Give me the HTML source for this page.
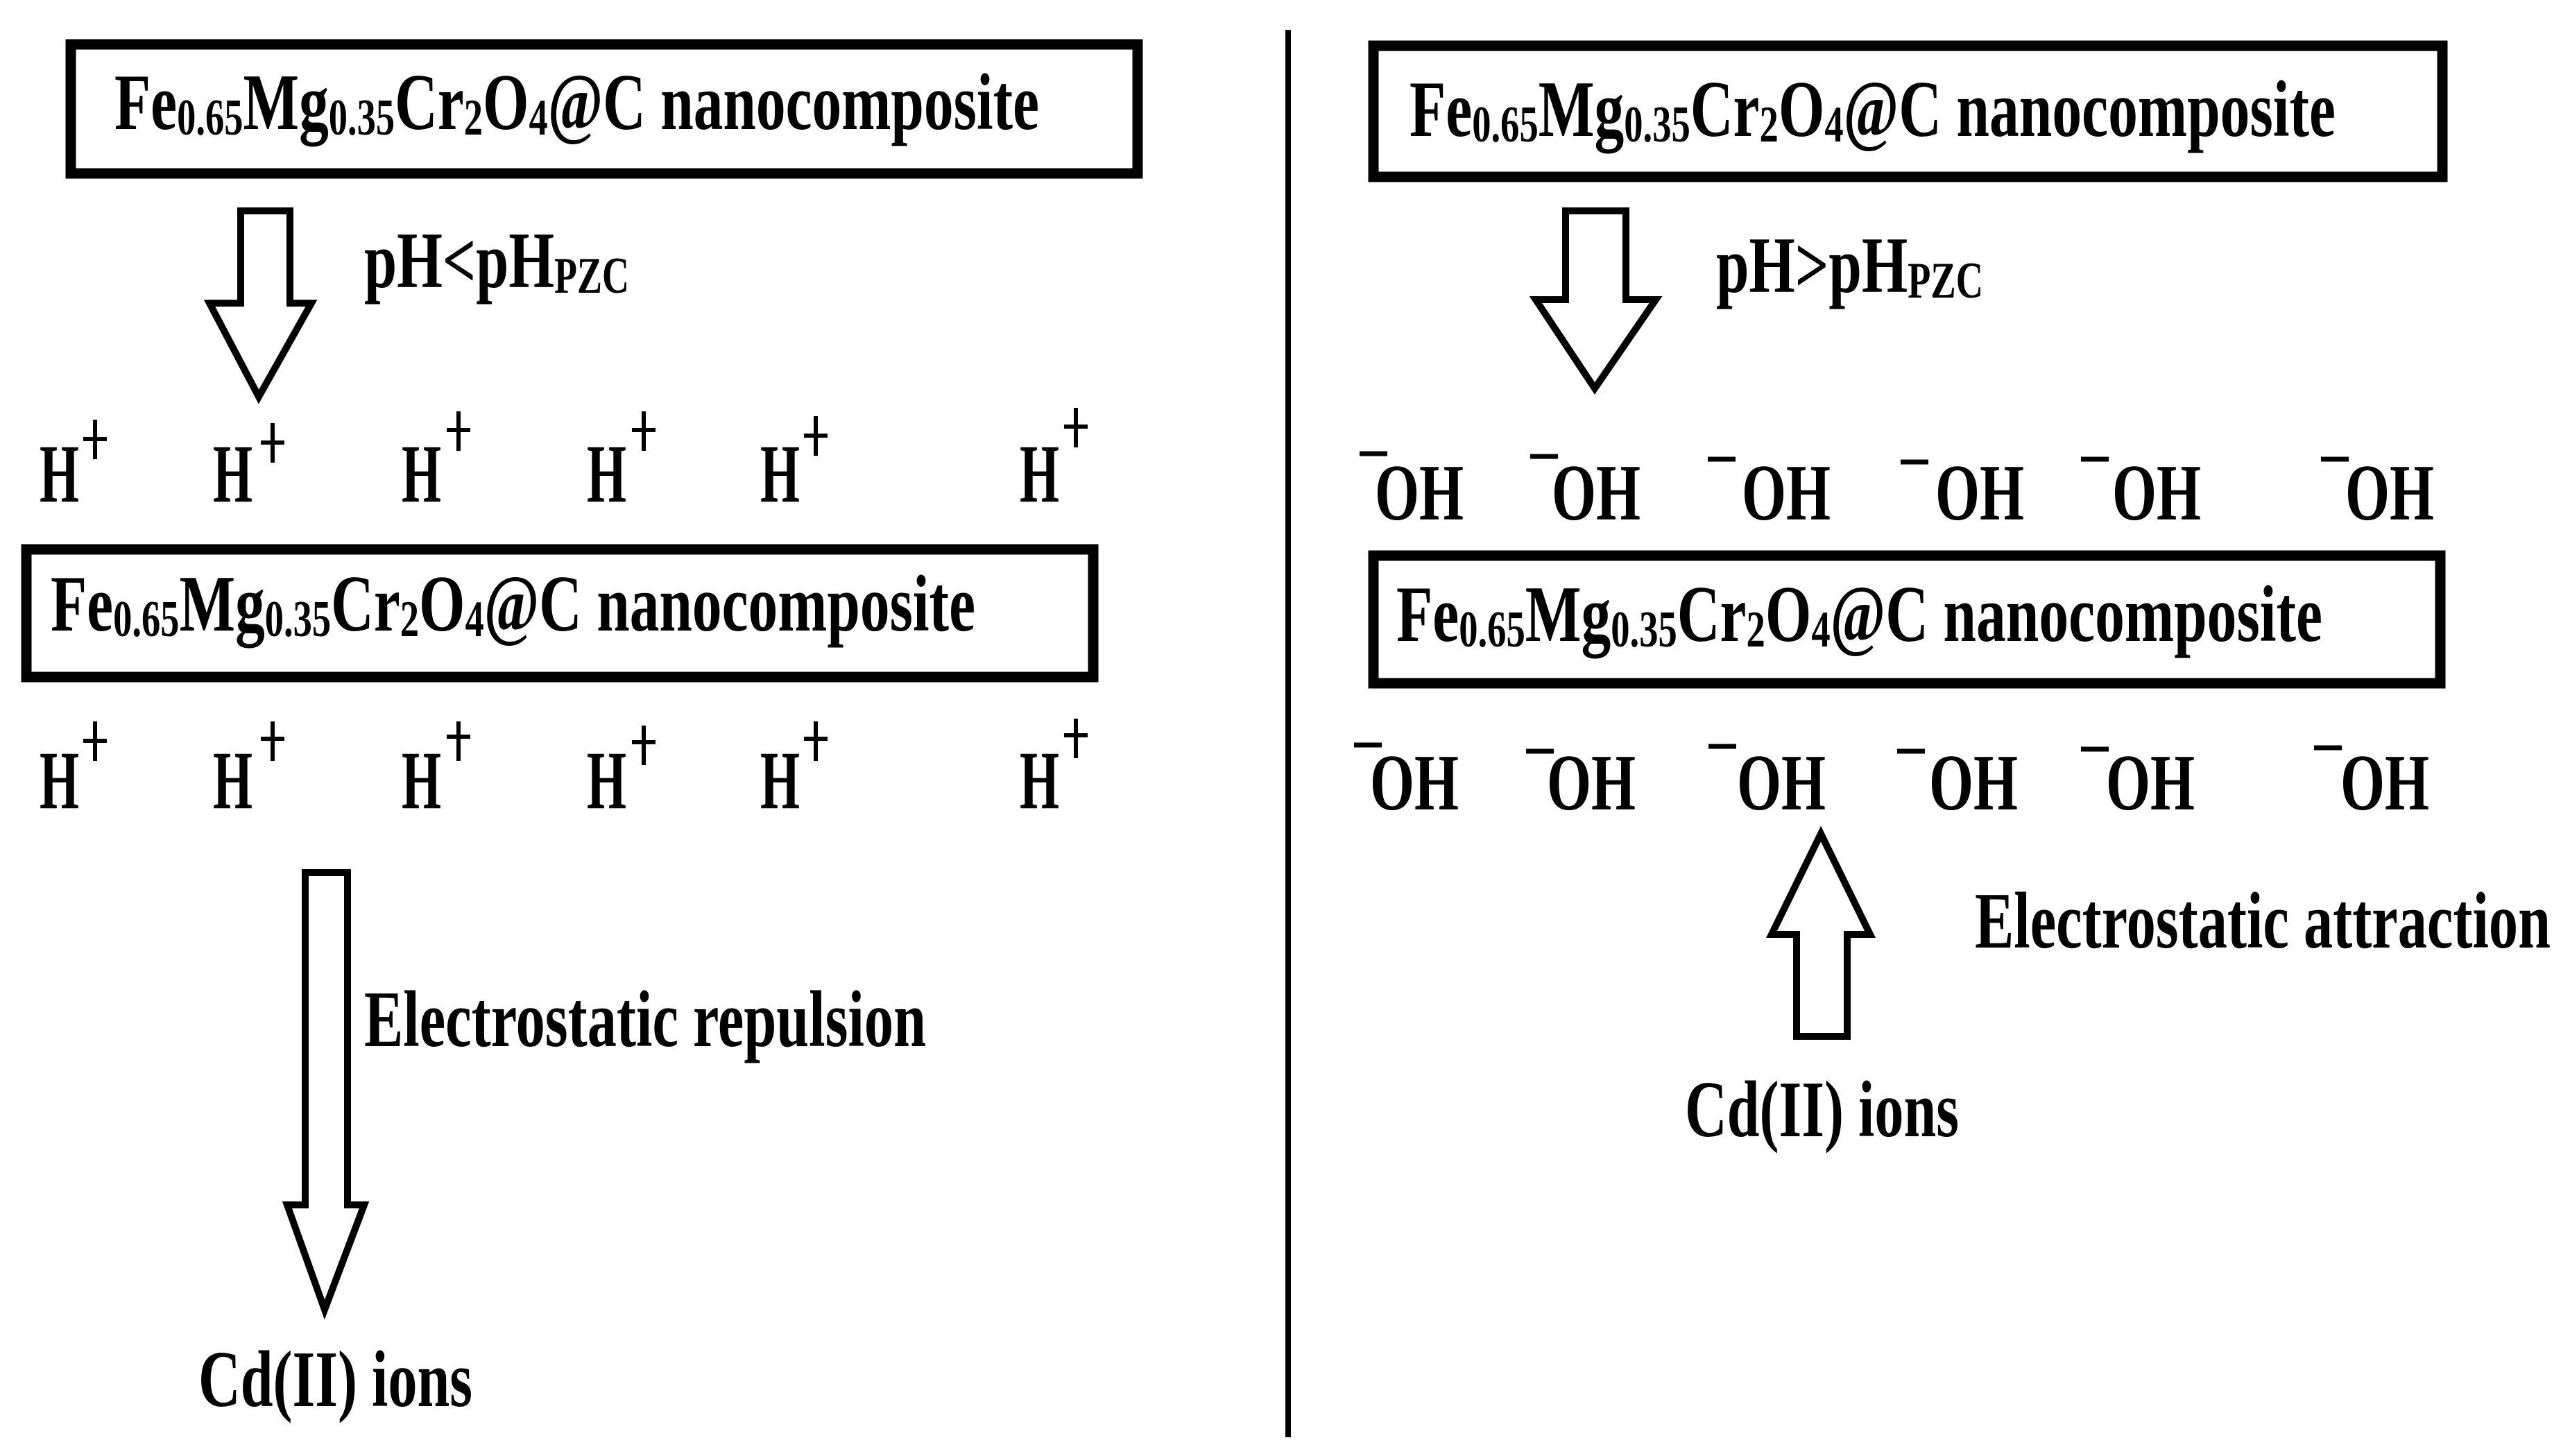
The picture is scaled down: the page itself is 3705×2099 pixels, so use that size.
<!DOCTYPE html>
<html><head><meta charset="utf-8"><style>
html,body{margin:0;padding:0;background:#fff;}
svg{display:block;}
text{font-family:"Liberation Serif",serif;font-weight:bold;fill:#000;}
</style></head><body>
<svg width="3705" height="2099" viewBox="0 0 3705 2099" xmlns="http://www.w3.org/2000/svg">
<rect width="3705" height="2099" fill="#fff"/>
<rect x="1853" y="43" width="8" height="2029" fill="#000"/>

<rect x="102" y="64" width="1538" height="186" fill="none" stroke="#000" stroke-width="15"/>
<text x="165" y="186" font-size="116" textLength="1333" lengthAdjust="spacingAndGlyphs">Fe<tspan font-size="74" dy="8">0.65</tspan><tspan dy="-8">Mg</tspan><tspan font-size="74" dy="8">0.35</tspan><tspan dy="-8">Cr</tspan><tspan font-size="74" dy="8">2</tspan><tspan dy="-8">O</tspan><tspan font-size="74" dy="8">4</tspan><tspan dy="-8">@C nanocomposite</tspan></text>

<polygon points="347,304 418,304 418,437 449,437 373,572 302,437 347,437" fill="#fff" stroke="#000" stroke-width="10"/>
<text x="525" y="414" font-size="116" textLength="382" lengthAdjust="spacingAndGlyphs">pH&lt;pH<tspan font-size="74" dy="8">PZC</tspan></text>

<g font-size="120">
<text x="57" y="723" textLength="57" lengthAdjust="spacingAndGlyphs">H</text><text x="307" y="723" textLength="57" lengthAdjust="spacingAndGlyphs">H</text><text x="579" y="723" textLength="57" lengthAdjust="spacingAndGlyphs">H</text><text x="846" y="723" textLength="57" lengthAdjust="spacingAndGlyphs">H</text><text x="1096" y="723" textLength="57" lengthAdjust="spacingAndGlyphs">H</text><text x="1470" y="723" textLength="57" lengthAdjust="spacingAndGlyphs">H</text>
<text x="57" y="1165" textLength="57" lengthAdjust="spacingAndGlyphs">H</text><text x="307" y="1165" textLength="57" lengthAdjust="spacingAndGlyphs">H</text><text x="579" y="1165" textLength="57" lengthAdjust="spacingAndGlyphs">H</text><text x="846" y="1165" textLength="57" lengthAdjust="spacingAndGlyphs">H</text><text x="1096" y="1165" textLength="57" lengthAdjust="spacingAndGlyphs">H</text><text x="1470" y="1165" textLength="57" lengthAdjust="spacingAndGlyphs">H</text>
</g>
<g stroke="#000" stroke-width="6">
<path d="M137 605v57M120 633h34M393 610v57M376 638h34M661 593v57M644 620h34M928 593v57M911 620h34M1176 600v57M1159 628h34M1551 588v57M1534 615h34"/>
<path d="M137 1040v57M120 1068h34M393 1040v57M376 1065h34M661 1040v57M644 1062h34M928 1046v57M911 1070h34M1176 1040v57M1159 1065h34M1551 1036v57M1534 1060h34"/>
</g>

<rect x="38" y="792" width="1538" height="184" fill="none" stroke="#000" stroke-width="15"/>
<text x="73" y="909" font-size="116" textLength="1333" lengthAdjust="spacingAndGlyphs">Fe<tspan font-size="74" dy="8">0.65</tspan><tspan dy="-8">Mg</tspan><tspan font-size="74" dy="8">0.35</tspan><tspan dy="-8">Cr</tspan><tspan font-size="74" dy="8">2</tspan><tspan dy="-8">O</tspan><tspan font-size="74" dy="8">4</tspan><tspan dy="-8">@C nanocomposite</tspan></text>

<polygon points="440,1258 501,1258 501,1737 525,1737 468,1888 414,1737 440,1737" fill="#fff" stroke="#000" stroke-width="10"/>
<text x="525" y="1508" font-size="116" textLength="810" lengthAdjust="spacingAndGlyphs">Electrostatic repulsion</text>
<text x="286" y="2027" font-size="116" textLength="395" lengthAdjust="spacingAndGlyphs">Cd(II) ions</text>

<rect x="1980" y="66" width="1541" height="189" fill="none" stroke="#000" stroke-width="15"/>
<text x="2032" y="196" font-size="116" textLength="1335" lengthAdjust="spacingAndGlyphs">Fe<tspan font-size="74" dy="8">0.65</tspan><tspan dy="-8">Mg</tspan><tspan font-size="74" dy="8">0.35</tspan><tspan dy="-8">Cr</tspan><tspan font-size="74" dy="8">2</tspan><tspan dy="-8">O</tspan><tspan font-size="74" dy="8">4</tspan><tspan dy="-8">@C nanocomposite</tspan></text>

<polygon points="2257,304 2344,304 2344,432 2387,432 2299,560 2214,432 2257,432" fill="#fff" stroke="#000" stroke-width="10"/>
<text x="2474" y="421" font-size="116" textLength="385" lengthAdjust="spacingAndGlyphs">pH&gt;pH<tspan font-size="74" dy="8">PZC</tspan></text>

<g font-size="116">
<text x="1982" y="749" textLength="128" lengthAdjust="spacingAndGlyphs">OH</text>
<text x="2237" y="749" textLength="128" lengthAdjust="spacingAndGlyphs">OH</text>
<text x="2511" y="749" textLength="128" lengthAdjust="spacingAndGlyphs">OH</text>
<text x="2790" y="749" textLength="128" lengthAdjust="spacingAndGlyphs">OH</text>
<text x="3045" y="749" textLength="128" lengthAdjust="spacingAndGlyphs">OH</text>
<text x="3381" y="749" textLength="128" lengthAdjust="spacingAndGlyphs">OH</text>
<text x="1975" y="1167" textLength="128" lengthAdjust="spacingAndGlyphs">OH</text>
<text x="2230" y="1167" textLength="128" lengthAdjust="spacingAndGlyphs">OH</text>
<text x="2504" y="1167" textLength="128" lengthAdjust="spacingAndGlyphs">OH</text>
<text x="2781" y="1167" textLength="128" lengthAdjust="spacingAndGlyphs">OH</text>
<text x="3036" y="1167" textLength="128" lengthAdjust="spacingAndGlyphs">OH</text>
<text x="3374" y="1167" textLength="128" lengthAdjust="spacingAndGlyphs">OH</text>
</g>
<g stroke="#000" stroke-width="7">
<path d="M1960 654h40M2206 658h40M2462 662h40M2740 666h40M3000 662h40M3346 662h40"/>
<path d="M1952 1074h40M2200 1083h40M2463 1076h40M2735 1083h40M3000 1080h40M3336 1078h40"/>
</g>

<rect x="1980" y="801" width="1538" height="184" fill="none" stroke="#000" stroke-width="15"/>
<text x="2013" y="924" font-size="116" textLength="1335" lengthAdjust="spacingAndGlyphs">Fe<tspan font-size="74" dy="8">0.65</tspan><tspan dy="-8">Mg</tspan><tspan font-size="74" dy="8">0.35</tspan><tspan dy="-8">Cr</tspan><tspan font-size="74" dy="8">2</tspan><tspan dy="-8">O</tspan><tspan font-size="74" dy="8">4</tspan><tspan dy="-8">@C nanocomposite</tspan></text>

<polygon points="2625,1202 2696,1347 2663,1347 2663,1494 2590,1494 2590,1347 2554,1347" fill="#fff" stroke="#000" stroke-width="10"/>
<text x="2847" y="1366" font-size="116" textLength="830" lengthAdjust="spacingAndGlyphs">Electrostatic attraction</text>
<text x="2429" y="1638" font-size="116" textLength="395" lengthAdjust="spacingAndGlyphs">Cd(II) ions</text>
</svg>
</body></html>
